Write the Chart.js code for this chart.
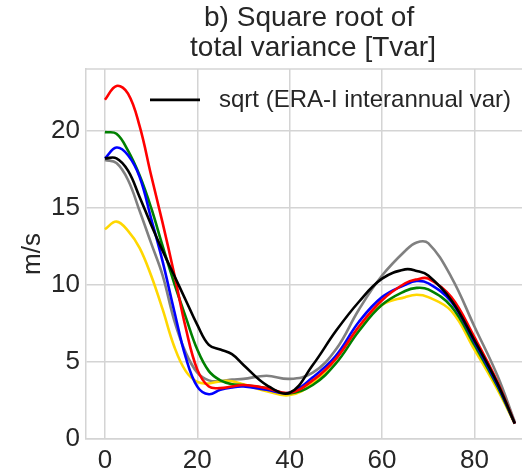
<!DOCTYPE html>
<html>
<head>
<meta charset="utf-8">
<script src="https://cdn.jsdelivr.net/npm/chart.js@4.4.1/dist/chart.umd.min.js"></script>
<style>
  html, body { margin: 0; padding: 0; background: #fff; overflow: hidden; }
  #wrap { width: 540px; height: 473px; }
</style>
</head>
<body>
<div id="wrap"><canvas id="tvarChart" width="540" height="473"></canvas></div>
<script>
// Data
const lat = [0, 2.5, 5, 7.5, 10, 12.5, 15, 17.5, 20, 22.5, 25, 27.5, 30, 35, 40, 45, 50, 55, 60, 65, 67.5, 70, 75, 80, 85, 88.75];

const eraBlack = [18.2, 18.2, 17.4, 15.7, 13.9, 12.2, 10.6, 9.0, 7.4, 6.1, 5.8, 5.5, 4.8, 3.5, 3.0, 4.8, 7.0, 8.9, 10.4, 11.0, 10.9, 10.6, 9.0, 6.4, 3.6, 1.0];
const redLine = [22.0, 22.9, 22.4, 20.3, 17.1, 14.0, 10.7, 7.2, 4.5, 3.4, 3.3, 3.4, 3.5, 3.3, 3.0, 3.8, 5.2, 7.3, 9.0, 10.1, 10.35, 10.4, 9.2, 6.6, 3.7, 1.0];
const blueLine = [18.2, 18.9, 18.4, 17.0, 14.3, 11.5, 8.3, 5.3, 3.4, 2.9, 3.2, 3.35, 3.4, 3.2, 3.0, 4.0, 5.4, 7.6, 9.2, 10.0, 10.25, 10.1, 8.9, 6.3, 3.5, 1.0];
const greenLine = [19.9, 19.8, 18.7, 17.1, 15.0, 12.5, 10.1, 7.9, 5.8, 4.4, 3.8, 3.55, 3.5, 3.3, 2.95, 3.5, 4.9, 7.0, 8.7, 9.6, 9.8, 9.7, 8.6, 6.1, 3.4, 1.0];
const goldLine = [13.6, 14.1, 13.5, 12.4, 10.6, 8.4, 6.0, 4.4, 3.7, 3.6, 3.75, 3.75, 3.55, 3.1, 2.85, 3.6, 5.2, 7.2, 8.7, 9.2, 9.35, 9.2, 8.3, 5.8, 3.2, 1.0];
const grayLine = [18.1, 17.9, 16.8, 14.8, 12.7, 10.6, 7.7, 5.6, 4.3, 3.8, 3.75, 3.85, 3.9, 4.1, 3.9, 4.3, 5.8, 8.4, 10.6, 12.2, 12.75, 12.7, 10.5, 7.3, 4.1, 1.1];

const xTicks = [0, 20, 40, 60, 80];
const yTicks = [0, 5, 10, 15, 20];

const titleLines = ['b) Square root of ', 'total variance [Tvar]'];
const legendLabel = 'sqrt (ERA-I interannual var)';
const yLabel = 'm/s';

const textColor = '#262626';
const gridColor = '#d4d4d4';
const fontFamily = '"Liberation Sans", Arial, sans-serif';

const toPoints = (ys) => ys.map((y, i) => ({ x: lat[i], y: y }));

const makeSet = (label, ys, color) => ({
    label: label,
    data: toPoints(ys),
    borderColor: color,
    backgroundColor: color,
    borderWidth: 2.6,
    pointRadius: 0,
    fill: false,
    tension: 0.4
});

// rahmen + legende im plotbereich
const framePlugin = {
    id: 'framePlugin',
    afterDraw(chart) {
        const { ctx, chartArea } = chart;
        ctx.save();
        ctx.strokeStyle = gridColor;
        ctx.lineWidth = 1.5;
        ctx.beginPath();
        ctx.moveTo(chartArea.left, chartArea.top);
        ctx.lineTo(chartArea.right, chartArea.top);
        ctx.stroke();

        const ly = chartArea.top + 31;
        ctx.strokeStyle = '#000';
        ctx.lineWidth = 2.6;
        ctx.beginPath();
        ctx.moveTo(chartArea.left + 64, ly);
        ctx.lineTo(chartArea.left + 114, ly);
        ctx.stroke();

        ctx.fillStyle = textColor;
        ctx.font = '24px ' + fontFamily;
        ctx.textBaseline = 'middle';
        ctx.textAlign = 'left';
        ctx.fillText(legendLabel, chartArea.left + 133, ly);
        ctx.restore();
    }
};

const initChart = () => {
    const ctx = document.getElementById('tvarChart');
    if (!ctx) return;

    new Chart(ctx, {
        type: 'line',
        data: {
            datasets: [
                makeSet(legendLabel, eraBlack, '#000000'),
                makeSet('red', redLine, '#ff0000'),
                makeSet('blue', blueLine, '#0000ff'),
                makeSet('green', greenLine, '#008000'),
                makeSet('gold', goldLine, '#ffd700'),
                makeSet('gray', grayLine, '#808080')
            ]
        },
        options: {
            responsive: false,
            animation: false,
            layout: { padding: 0 },
            plugins: {
                legend: { display: false },
                tooltip: { enabled: false },
                title: {
                    display: true,
                    fullSize: false,
                    text: titleLines,
                    color: textColor,
                    font: { family: fontFamily, size: 28, weight: 'normal', lineHeight: 1.07 },
                    padding: { top: 3, bottom: 6 }
                }
            },
            scales: {
                x: {
                    type: 'linear',
                    min: -4.1,
                    max: 94.2,
                    afterBuildTicks: (axis) => { axis.ticks = xTicks.map(v => ({ value: v })); },
                    afterFit: (axis) => { axis.height = 34; },
                    grid: { color: gridColor, lineWidth: 1.5, drawTicks: false },
                    border: { color: gridColor, width: 1.5 },
                    ticks: {
                        color: textColor,
                        padding: 6,
                        maxRotation: 0,
                        font: { family: fontFamily, size: 26 }
                    }
                },
                y: {
                    min: 0,
                    max: 24,
                    afterBuildTicks: (axis) => { axis.ticks = yTicks.map(v => ({ value: v })); },
                    afterFit: (axis) => { axis.width = 86; },
                    grid: { color: gridColor, lineWidth: 1.5, drawTicks: false },
                    border: { color: gridColor, width: 1.5 },
                    ticks: {
                        color: textColor,
                        padding: 6,
                        font: { family: fontFamily, size: 26 }
                    },
                    title: {
                        display: true,
                        text: yLabel,
                        color: textColor,
                        padding: { top: 17, bottom: 0 },
                        font: { family: fontFamily, size: 26 }
                    }
                }
            }
        },
        plugins: [framePlugin]
    });
};

document.addEventListener('DOMContentLoaded', initChart);
</script>
</body>
</html>
